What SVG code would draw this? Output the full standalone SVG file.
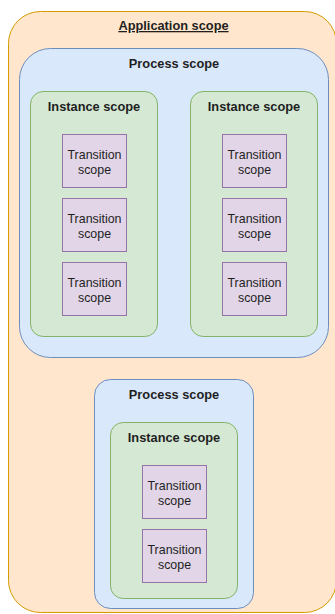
<svg xmlns="http://www.w3.org/2000/svg" width="335" height="614" viewBox="0 0 335 614">
  <style>
    text { font-family: "Liberation Sans", Arial, Helvetica, sans-serif; font-size: 12.4px; fill: #1f1f1f; text-anchor: middle; }
    .title { font-weight: bold; font-size: 12.8px; }
    .app { fill: #ffe6cc; stroke: #d79b00; stroke-width: 1; }
    .proc { fill: #dae8fc; stroke: #6c8ebf; stroke-width: 1; }
    .inst { fill: #d5e8d4; stroke: #82b366; stroke-width: 1; }
    .trans { fill: #e1d5e7; stroke: #9673a6; stroke-width: 1; }
  </style>
  <defs>
    <!-- transition scope box: 64 x 53, two-line label -->
    <g id="transition">
      <rect class="trans" x="0" y="0" width="64" height="53"/>
      <text x="32" y="24">Transition</text>
      <text x="32" y="39">scope</text>
    </g>
  </defs>

  <g id="application-scope">
    <rect class="app" x="8.5" y="11.5" width="328" height="601" rx="32" ry="32"/>
    <text class="title" x="173.5" y="30" text-decoration="underline">Application scope</text>
  </g>

  <g id="process-scope-1">
    <rect class="proc" x="19.5" y="48.5" width="309" height="309" rx="31" ry="31"/>
    <text class="title" x="174" y="68">Process scope</text>
  </g>

  <g id="instance-scope-1">
    <rect class="inst" x="30.5" y="91.5" width="127" height="245" rx="12.7" ry="12.7"/>
    <text class="title" x="94" y="110.5">Instance scope</text>
  </g>
  <g id="transition-1-1"><use href="#transition" x="62.5" y="134.5"/></g>
  <g id="transition-1-2"><use href="#transition" x="62.5" y="198.5"/></g>
  <g id="transition-1-3"><use href="#transition" x="62.5" y="262.5"/></g>

  <g id="instance-scope-2">
    <rect class="inst" x="190.5" y="91.5" width="127" height="245" rx="12.7" ry="12.7"/>
    <text class="title" x="254" y="110.5">Instance scope</text>
  </g>
  <g id="transition-2-1"><use href="#transition" x="222.5" y="134.5"/></g>
  <g id="transition-2-2"><use href="#transition" x="222.5" y="198.5"/></g>
  <g id="transition-2-3"><use href="#transition" x="222.5" y="262.5"/></g>

  <g id="process-scope-2">
    <rect class="proc" x="94.5" y="379.5" width="159" height="229" rx="16" ry="16"/>
    <text class="title" x="174" y="399">Process scope</text>
  </g>

  <g id="instance-scope-3">
    <rect class="inst" x="110.5" y="422.5" width="127" height="176" rx="12.7" ry="12.7"/>
    <text class="title" x="174" y="441.5">Instance scope</text>
  </g>
  <g id="transition-3-1"><use href="#transition" x="142.5" y="465.5"/></g>
  <g id="transition-3-2"><use href="#transition" x="142.5" y="529.5"/></g>
</svg>
